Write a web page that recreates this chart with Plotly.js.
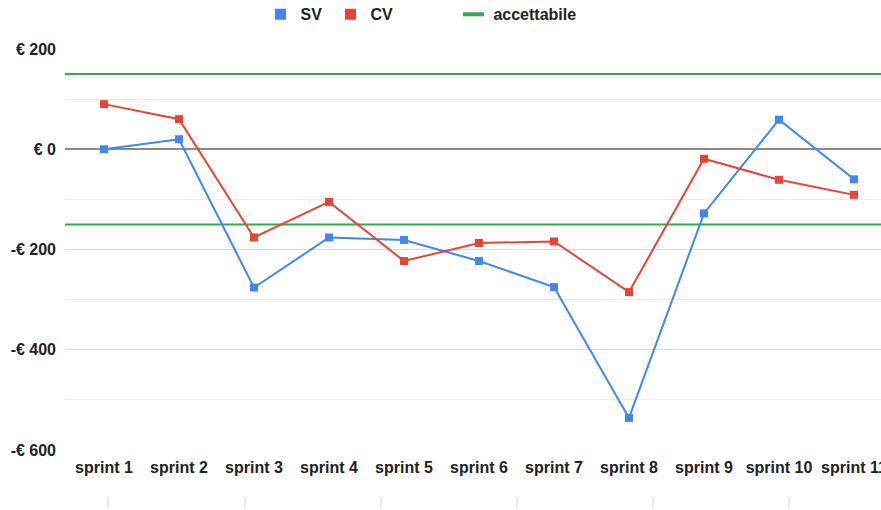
<!DOCTYPE html>
<html>
<head>
<meta charset="utf-8">
<script src="https://cdn.plot.ly/plotly-3.0.1.min.js"></script>
<style>html,body{margin:0;padding:0;background:#fff;}#chart{width:881px;height:510px;}</style>
</head>
<body>
<div id="chart"></div>
<script>
const sprints = ["sprint 1","sprint 2","sprint 3","sprint 4","sprint 5","sprint 6","sprint 7","sprint 8","sprint 9","sprint 10","sprint 11"];
const SV = [0, 20, -276, -176, -181, -223, -275, -536, -128, 59, -60];
const CV = [90, 60, -176, -105, -223, -187, -184, -285, -19, -61, -91];
const accettabile = [150, -150];
const yTickVals = [200, 0, -200, -400, -600];
const yTickText = ["€ 200", "€ 0", "-€ 200", "-€ 400", "-€ 600"];

const BLUE = "#4285F4", RED = "#EA4335", GREEN = "#34A853";
const FAM = "Liberation Sans, Arial, sans-serif";

const traces = [
  {x: sprints, y: SV, name: "SV", mode: "lines+markers", showlegend: false,
   line: {color: BLUE, width: 2}, marker: {symbol: "square", size: 8, color: BLUE}},
  {x: sprints, y: CV, name: "CV", mode: "lines+markers", showlegend: false,
   line: {color: RED, width: 2}, marker: {symbol: "square", size: 8, color: RED}},
  {x: [null], y: [null], name: "SV", mode: "markers", legend: "legend",
   marker: {symbol: "square", size: 11, color: BLUE}},
  {x: [null], y: [null], name: "CV", mode: "markers", legend: "legend",
   marker: {symbol: "square", size: 11, color: RED}},
  {x: [null], y: [null], name: "accettabile", mode: "markers", legend: "legend2",
   marker: {symbol: "line-ew", size: 15, color: GREEN, line: {color: GREEN, width: 4}}}
];

const shapes = accettabile.map(v => ({
  type: "line", xref: "paper", x0: 0, x1: 1, yref: "y", y0: v, y1: v,
  line: {color: GREEN, width: 2}, layer: "below"
}));
// faint decorative ticks under the chart
[108, 245, 381, 517, 653, 789].forEach(px => {
  const xp = (px - 65) / 816;
  shapes.push({type: "line", xref: "paper", yref: "paper", x0: xp, x1: xp, y0: -0.12, y1: -0.145,
    line: {color: "#d6d6d6", width: 1}});
});

const legFont = {family: FAM, size: 16, color: "#222", weight: "bold"};

const layout = {
  width: 881, height: 510,
  margin: {l: 65, r: 0, t: 49, b: 60, autoexpand: false},
  paper_bgcolor: "#fff", plot_bgcolor: "#fff",
  font: {family: FAM, size: 13, color: "#222"},
  showlegend: true,
  legend: {orientation: "h", x: 0.2396, xanchor: "left", yref: "container", y: 0.972, yanchor: "middle",
    font: legFont, itemwidth: 30, entrywidth: 25},
  legend2: {orientation: "h", x: 0.476, xanchor: "left", yref: "container", y: 0.972, yanchor: "middle",
    font: legFont, itemwidth: 30},
  xaxis: {type: "category", range: [-0.52, 10.36], showgrid: false, zeroline: false,
    showline: false, ticks: "", fixedrange: true, ticklabelstandoff: 6, automargin: false,
    tickfont: {family: FAM, size: 16, color: "#222", weight: "bold"}},
  yaxis: {range: [-600, 200], tickvals: yTickVals, ticktext: yTickText, automargin: false,
    showgrid: true, gridcolor: "#dddddd", gridwidth: 1,
    minor: {dtick: 100, showgrid: true, gridcolor: "#ececec", gridwidth: 1, tick0: 0},
    zeroline: true, zerolinecolor: "#8a8a8a", zerolinewidth: 2,
    showline: false, ticks: "", ticklabelstandoff: 8,
    tickfont: {family: FAM, size: 16, color: "#222", weight: "bold"}},
  shapes: shapes
};

Plotly.newPlot("chart", traces, layout, {displayModeBar: false, staticPlot: true});
</script>
</body>
</html>
